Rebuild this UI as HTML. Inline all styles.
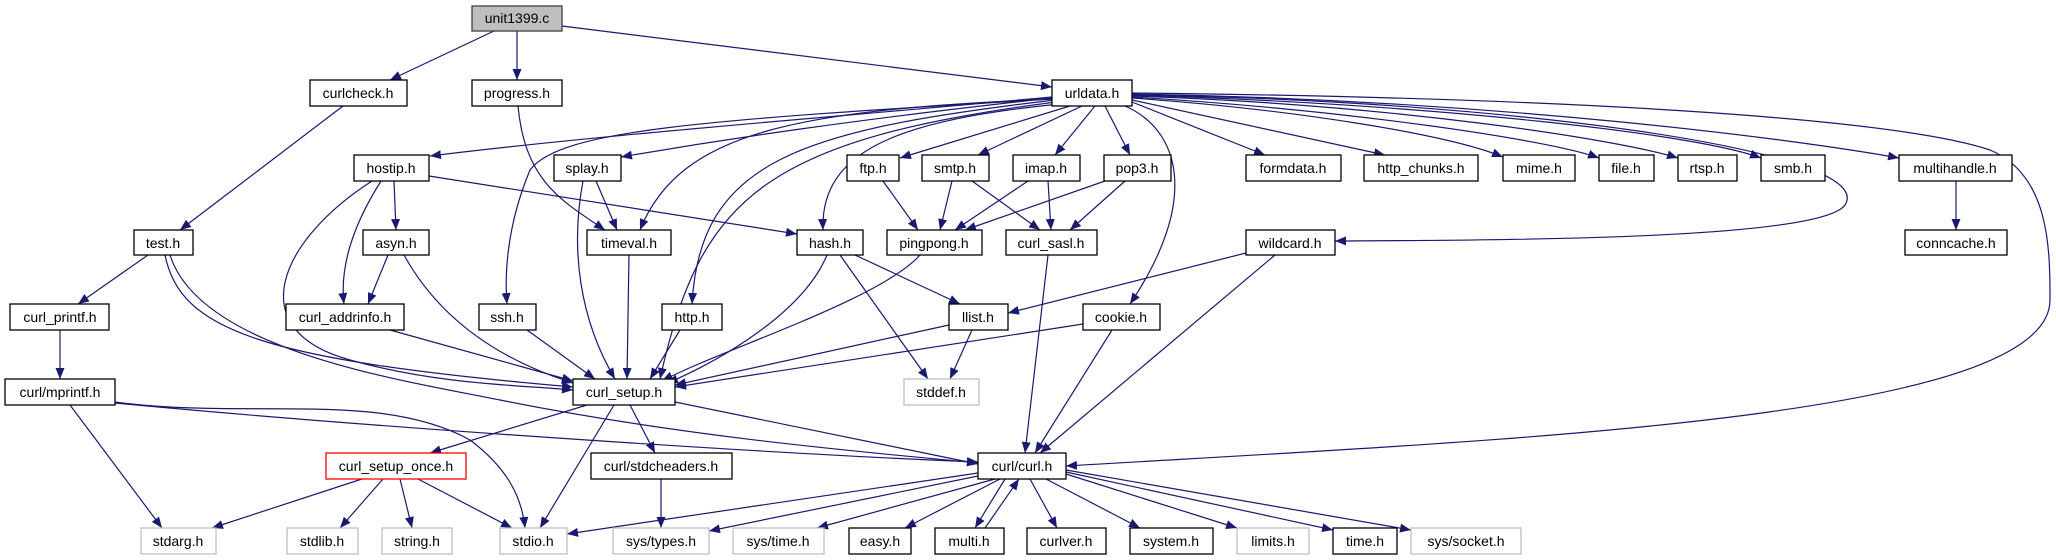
<!DOCTYPE html>
<html><head><meta charset="utf-8"><style>
html,body{margin:0;padding:0;background:#fff}
svg{display:block}
text{font-family:"Liberation Sans","DejaVu Sans",sans-serif;font-size:14px;text-anchor:middle;fill:#000}
.n{fill:#fff;stroke:#000;stroke-width:1.3}
.g{fill:#fff;stroke:#bfbfbf;stroke-width:1.3}
.e{fill:none;stroke:#191970;stroke-width:1.2;marker-end:url(#a)}
</style></head><body>
<svg width="2056" height="560" viewBox="0 0 2056 560" xmlns="http://www.w3.org/2000/svg">
<defs><marker id="a" markerUnits="userSpaceOnUse" markerWidth="12" markerHeight="9" refX="11" refY="4.5" orient="auto"><path d="M0,0 L11,4.5 L0,9 z" fill="#191970"/></marker></defs>
<g>
<path class="e" d="M494,31 L390,80"/>
<path class="e" d="M517,31 L517,80"/>
<path class="e" d="M562,26 L1052,87"/>
<path class="e" d="M343,106 L180,230"/>
<path class="e" d="M518,106 C525,180 560,200 605,230"/>
<path class="e" d="M1052,97 C800,120 600,135 430,156"/>
<path class="e" d="M1052,98 C850,120 720,140 621,157"/>
<path class="e" d="M1052,99 C800,110 680,130 640,230"/>
<path class="e" d="M1052,99 C700,120 560,130 530,170 C505,230 505,280 507,304"/>
<path class="e" d="M1055,100 C800,130 700,160 692,304"/>
<path class="e" d="M1056,102 C760,140 700,200 660,379"/>
<path class="e" d="M1060,104 C900,120 820,150 823,230"/>
<path class="e" d="M1070,106 L900,158"/>
<path class="e" d="M1082,106 L978,155"/>
<path class="e" d="M1095,106 L1055,155"/>
<path class="e" d="M1105,106 L1130,155"/>
<path class="e" d="M1125,106 C1180,130 1200,200 1130,304"/>
<path class="e" d="M1132,102 L1265,155"/>
<path class="e" d="M1132,100 L1385,155"/>
<path class="e" d="M1132,98 C1300,110 1450,135 1503,157"/>
<path class="e" d="M1132,97 C1350,110 1550,140 1599,158"/>
<path class="e" d="M1132,96 C1400,105 1620,140 1678,158"/>
<path class="e" d="M1132,95 C1450,105 1700,135 1761,158"/>
<path class="e" d="M1132,94 C1500,100 1800,140 1899,158"/>
<path class="e" d="M1132,95 C1500,100 1880,150 1845,205 C1820,240 1500,240 1335,241"/>
<path class="e" d="M1132,93 C1600,98 1900,120 1990,150 C2050,175 2050,250 2050,300 C2050,420 1500,440 1066,466"/>
<path class="e" d="M1956,181 L1956,230"/>
<path class="e" d="M394,181 L396,230"/>
<path class="e" d="M381,181 C350,230 340,270 344,304"/>
<path class="e" d="M372,181 C280,240 240,330 350,360 C440,385 520,385 573,390"/>
<path class="e" d="M429,176 L797,234"/>
<path class="e" d="M596,181 L617,230"/>
<path class="e" d="M583,181 C570,250 580,320 615,379"/>
<path class="e" d="M629,255 L627,379"/>
<path class="e" d="M883,181 L918,230"/>
<path class="e" d="M952,181 L940,230"/>
<path class="e" d="M972,181 L1040,230"/>
<path class="e" d="M1028,181 L955,230"/>
<path class="e" d="M1048,181 L1051,230"/>
<path class="e" d="M1105,181 L965,230"/>
<path class="e" d="M1125,181 L1070,230"/>
<path class="e" d="M920,255 C880,300 720,350 662,381"/>
<path class="e" d="M1048,255 L1025,453"/>
<path class="e" d="M855,255 L960,304"/>
<path class="e" d="M827,255 C800,320 700,370 667,383"/>
<path class="e" d="M840,255 L928,379"/>
<path class="e" d="M1246,253 L1008,313"/>
<path class="e" d="M1275,255 L1040,453"/>
<path class="e" d="M148,255 L78,304"/>
<path class="e" d="M165,255 C180,330 260,360 573,387"/>
<path class="e" d="M170,255 C200,350 400,380 500,400 C700,440 900,455 978,463"/>
<path class="e" d="M388,255 L368,304"/>
<path class="e" d="M404,255 C440,320 500,360 573,383"/>
<path class="e" d="M390,330 L573,381"/>
<path class="e" d="M527,330 L595,379"/>
<path class="e" d="M680,330 L650,379"/>
<path class="e" d="M949,325 L675,385"/>
<path class="e" d="M972,330 L950,379"/>
<path class="e" d="M1083,324 L675,387"/>
<path class="e" d="M1112,330 L1035,453"/>
<path class="e" d="M60,330 L60,379"/>
<path class="e" d="M70,405 L162,528"/>
<path class="e" d="M115,403 C400,430 800,455 978,462"/>
<path class="e" d="M115,402 C250,420 380,390 470,440 C510,470 522,500 525,528"/>
<path class="e" d="M587,405 L430,453"/>
<path class="e" d="M614,405 L540,528"/>
<path class="e" d="M630,405 L655,453"/>
<path class="e" d="M675,402 L978,464"/>
<path class="e" d="M362,479 L212,528"/>
<path class="e" d="M383,479 L340,528"/>
<path class="e" d="M400,479 L412,528"/>
<path class="e" d="M418,479 L512,528"/>
<path class="e" d="M661,479 L661,528"/>
<path class="e" d="M978,473 L567,534"/>
<path class="e" d="M978,476 L709,531"/>
<path class="e" d="M995,479 L817,528"/>
<path class="e" d="M1000,479 L905,528"/>
<path class="e" d="M1005,479 L975,528"/>
<path class="e" d="M985,528 L1019,479"/>
<path class="e" d="M1030,479 L1057,528"/>
<path class="e" d="M1046,479 L1140,528"/>
<path class="e" d="M1066,474 L1237,528"/>
<path class="e" d="M1066,472 L1333,530"/>
<path class="e" d="M1066,470 L1411,530"/>
</g>
<g>
<rect x="472" y="6" width="90" height="25" fill="#bfbfbf" stroke="#404040" stroke-width="1.3"/><text x="517" y="23">unit1399.c</text>
<rect class="n" x="310" y="80" width="97" height="26"/><text x="358" y="98">curlcheck.h</text>
<rect class="n" x="472" y="80" width="90" height="26"/><text x="517" y="98">progress.h</text>
<rect class="n" x="1052" y="80" width="80" height="26"/><text x="1092" y="98">urldata.h</text>

<rect class="n" x="354" y="155" width="75" height="26"/><text x="391" y="173">hostip.h</text>
<rect class="n" x="554" y="155" width="67" height="26"/><text x="587" y="173">splay.h</text>
<rect class="n" x="847" y="155" width="52" height="26"/><text x="873" y="173">ftp.h</text>
<rect class="n" x="922" y="155" width="67" height="26"/><text x="955" y="173">smtp.h</text>
<rect class="n" x="1013" y="155" width="67" height="26"/><text x="1046" y="173">imap.h</text>
<rect class="n" x="1104" y="155" width="67" height="26"/><text x="1137" y="173">pop3.h</text>
<rect class="n" x="1246" y="155" width="95" height="26"/><text x="1293" y="173">formdata.h</text>
<rect class="n" x="1364" y="155" width="114" height="26"/><text x="1421" y="173">http_chunks.h</text>
<rect class="n" x="1503" y="155" width="72" height="26"/><text x="1539" y="173">mime.h</text>
<rect class="n" x="1599" y="155" width="55" height="26"/><text x="1626" y="173">file.h</text>
<rect class="n" x="1678" y="155" width="59" height="26"/><text x="1707" y="173">rtsp.h</text>
<rect class="n" x="1761" y="155" width="64" height="26"/><text x="1793" y="173">smb.h</text>
<rect class="n" x="1899" y="155" width="113" height="26"/><text x="1955" y="173">multihandle.h</text>

<rect class="n" x="134" y="230" width="59" height="25"/><text x="163" y="248">test.h</text>
<rect class="n" x="363" y="230" width="66" height="25"/><text x="396" y="248">asyn.h</text>
<rect class="n" x="587" y="230" width="84" height="25"/><text x="629" y="248">timeval.h</text>
<rect class="n" x="797" y="230" width="66" height="25"/><text x="830" y="248">hash.h</text>
<rect class="n" x="887" y="230" width="95" height="25"/><text x="934" y="248">pingpong.h</text>
<rect class="n" x="1006" y="230" width="91" height="25"/><text x="1051" y="248">curl_sasl.h</text>
<rect class="n" x="1246" y="230" width="89" height="25"/><text x="1290" y="248">wildcard.h</text>
<rect class="n" x="1905" y="230" width="102" height="25"/><text x="1956" y="248">conncache.h</text>

<rect class="n" x="10" y="304" width="99" height="26"/><text x="60" y="322">curl_printf.h</text>
<rect class="n" x="286" y="304" width="118" height="26"/><text x="345" y="322">curl_addrinfo.h</text>
<rect class="n" x="479" y="304" width="57" height="26"/><text x="507" y="322">ssh.h</text>
<rect class="n" x="662" y="304" width="60" height="26"/><text x="692" y="322">http.h</text>
<rect class="n" x="949" y="304" width="59" height="26"/><text x="978" y="322">llist.h</text>
<rect class="n" x="1083" y="304" width="77" height="26"/><text x="1121" y="322">cookie.h</text>

<rect class="n" x="5" y="379" width="110" height="26"/><text x="60" y="397">curl/mprintf.h</text>
<rect class="n" x="573" y="379" width="102" height="26"/><text x="624" y="397">curl_setup.h</text>
<rect class="g" x="904" y="379" width="75" height="26"/><text x="941" y="397">stddef.h</text>

<rect x="326" y="453" width="140" height="26" fill="#fff" stroke="#ff0000" stroke-width="1.3"/><text x="396" y="471">curl_setup_once.h</text>
<rect class="n" x="591" y="453" width="141" height="26"/><text x="661" y="471">curl/stdcheaders.h</text>
<rect class="n" x="978" y="453" width="88" height="26"/><text x="1022" y="471">curl/curl.h</text>

<rect class="g" x="141" y="528" width="75" height="26"/><text x="178" y="546">stdarg.h</text>
<rect class="g" x="287" y="528" width="71" height="26"/><text x="322" y="546">stdlib.h</text>
<rect class="g" x="382" y="528" width="70" height="26"/><text x="417" y="546">string.h</text>
<rect class="g" x="500" y="528" width="67" height="26"/><text x="533" y="546">stdio.h</text>
<rect class="g" x="613" y="528" width="96" height="26"/><text x="661" y="546">sys/types.h</text>
<rect class="g" x="733" y="528" width="91" height="26"/><text x="778" y="546">sys/time.h</text>
<rect class="n" x="849" y="528" width="62" height="26"/><text x="880" y="546">easy.h</text>
<rect class="n" x="935" y="528" width="69" height="26"/><text x="969" y="546">multi.h</text>
<rect class="n" x="1027" y="528" width="79" height="26"/><text x="1066" y="546">curlver.h</text>
<rect class="n" x="1130" y="528" width="83" height="26"/><text x="1171" y="546">system.h</text>
<rect class="g" x="1237" y="528" width="72" height="26"/><text x="1273" y="546">limits.h</text>
<rect class="n" x="1333" y="528" width="64" height="26"/><text x="1365" y="546">time.h</text>
<rect class="g" x="1411" y="528" width="110" height="26"/><text x="1466" y="546">sys/socket.h</text>
</g>
</svg>
</body></html>
